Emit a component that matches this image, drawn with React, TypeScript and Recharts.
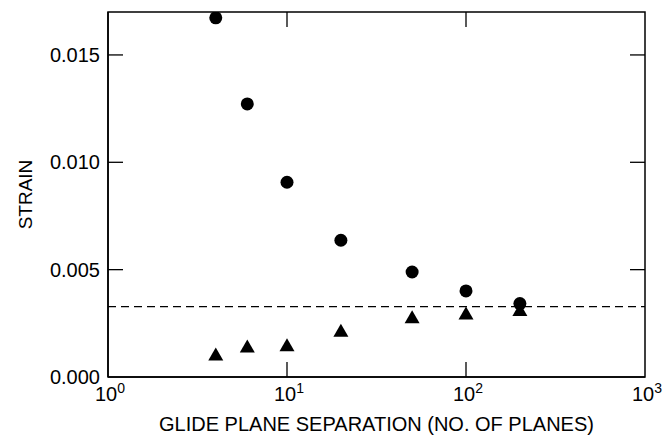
import React from 'react'
import {
  ScatterChart,
  Scatter,
  XAxis,
  YAxis,
  ReferenceLine,
  ReferenceArea,
  Label,
} from 'recharts'

// glide plane separation (no. of planes)
const separation = [4, 6, 10, 20, 50, 100, 200]
const circleStrain = [0.01673, 0.01272, 0.00907, 0.00637, 0.00489, 0.00401, 0.00342]
const triangleStrain = [0.00107, 0.00144, 0.0015, 0.00218, 0.00281, 0.00298, 0.00314]
const limitStrain = 0.00328

const xTicks = [1, 10, 100, 1000]
const xExponents = ['0', '1', '2', '3']
const yTicks = [0, 0.005, 0.01, 0.015]

const WIDTH = 670
const HEIGHT = 441
const MARGIN = { top: 12, right: 25, bottom: 0, left: 0 }
const Y_AXIS_W = 108
const X_AXIS_H = 64
const PLOT_TOP = MARGIN.top
const PLOT_RIGHT = WIDTH - MARGIN.right
const TICK_LEN = 15
const FONT = '"Liberation Sans", Arial, Helvetica, sans-serif'

const circles = separation.map((x, i) => ({ x, y: circleStrain[i] }))
const triangles = separation.map((x, i) => ({ x, y: triangleStrain[i] }))

const XTick = (props: any) => {
  const { x, y, payload, index } = props
  const inner = index > 0 && index < xTicks.length - 1
  return (
    <g>
      {inner && <line x1={x} y1={y} x2={x} y2={y - TICK_LEN} stroke="#000" strokeWidth={1.3} />}
      {inner && <line x1={x} y1={PLOT_TOP} x2={x} y2={PLOT_TOP + TICK_LEN} stroke="#000" strokeWidth={1.3} />}
      <text x={x + 2} y={y + 24} textAnchor="middle" fontSize={20} fontFamily={FONT} fill="#000">
        10
        <tspan dy={-8} fontSize={14}>{xExponents[xTicks.indexOf(payload.value)]}</tspan>
      </text>
    </g>
  )
}

const YTick = (props: any) => {
  const { x, y, payload, index } = props
  const inner = index > 0
  return (
    <g>
      {inner && <line x1={x} y1={y} x2={x + TICK_LEN} y2={y} stroke="#000" strokeWidth={1.3} />}
      {inner && <line x1={PLOT_RIGHT} y1={y} x2={PLOT_RIGHT - TICK_LEN} y2={y} stroke="#000" strokeWidth={1.3} />}
      <text x={x - 8} y={y + 7} textAnchor="end" fontSize={20} fontFamily={FONT} fill="#000">
        {payload.value.toFixed(3)}
      </text>
    </g>
  )
}

const Circle = (props: any) => <circle cx={props.cx} cy={props.cy} r={6.5} fill="#000" />

const Triangle = (props: any) => {
  const { cx, cy } = props
  return (
    <polygon
      points={`${cx},${cy - 6.5} ${cx - 7.5},${cy + 6.5} ${cx + 7.5},${cy + 6.5}`}
      fill="#000"
    />
  )
}

export default function App() {
  return (
    <div style={{ position: 'absolute', left: 0, top: 0, background: '#fff' }}>
      <ScatterChart width={WIDTH} height={HEIGHT} margin={MARGIN}>
        <XAxis
          type="number"
          dataKey="x"
          scale="log"
          domain={[1, 1000]}
          ticks={xTicks}
          interval={0}
          allowDataOverflow
          height={X_AXIS_H}
          tickSize={0}
          tickMargin={0}
          tickLine={false}
          axisLine={{ stroke: '#000', strokeWidth: 1.5 }}
          tick={<XTick />}
        >
          <Label
            value="GLIDE PLANE SEPARATION (NO. OF PLANES)"
            position="insideBottom"
            offset={10}
            style={{ fontSize: 20, fontFamily: FONT, fill: '#000' }}
          />
        </XAxis>
        <YAxis
          type="number"
          dataKey="y"
          domain={[0, 0.017]}
          ticks={yTicks}
          interval={0}
          allowDataOverflow
          width={Y_AXIS_W}
          tickSize={0}
          tickMargin={0}
          tickLine={false}
          axisLine={{ stroke: '#000', strokeWidth: 1.5 }}
          tick={<YTick />}
        >
          <Label
            content={(p: any) => {
              const vb = p.viewBox
              const cx = vb.x + 25
              const cy = vb.y + vb.height / 2
              return (
                <text
                  x={cx}
                  y={cy}
                  transform={`rotate(-90 ${cx} ${cy})`}
                  textAnchor="middle"
                  dominantBaseline="central"
                  fontSize={19}
                  fontFamily={FONT}
                  fill="#000"
                >
                  STRAIN
                </text>
              )
            }}
          />
        </YAxis>
        <ReferenceArea x1={1} x2={1000} y1={0} y2={0.017} fill="none" stroke="#000" strokeWidth={1.5} />
        <ReferenceLine y={limitStrain} stroke="#000" strokeWidth={1.3} strokeDasharray="8 5" />
        <Scatter data={circles} shape={<Circle />} isAnimationActive={false} />
        <Scatter data={triangles} shape={<Triangle />} isAnimationActive={false} />
      </ScatterChart>
    </div>
  )
}
